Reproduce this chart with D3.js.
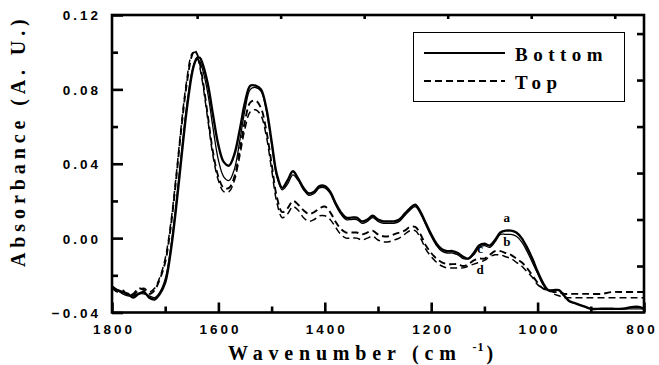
<!DOCTYPE html>
<html>
<head>
<meta charset="utf-8">
<script src="https://cdn.jsdelivr.net/npm/d3@7"></script>
<style>
  html, body { margin: 0; padding: 0; background: #fff; }
  svg { display: block; }
</style>
</head>
<body>
<svg id="chart" width="659" height="365"></svg>
<script>
// ---- data ----
const wavenumbers = [1800,1790,1780,1770,1760,1750,1740,1730,1720,1710,1700,1690,1680,1670,1660,1650,1645,1640,1635,1630,1620,1610,1600,1590,1580,1570,1560,1550,1540,1530,1520,1510,1500,1490,1480,1470,1460,1450,1440,1430,1420,1410,1400,1390,1380,1370,1360,1350,1340,1330,1320,1310,1300,1290,1280,1270,1260,1250,1240,1230,1220,1210,1200,1190,1180,1170,1160,1150,1140,1130,1120,1110,1100,1090,1080,1070,1060,1050,1040,1030,1020,1010,1000,990,980,970,960,950,940,930,920,910,900,880,860,840,820,810,800];

const bottomA = [-0.026,-0.028,-0.029,-0.030,-0.032,-0.030,-0.029,-0.032,-0.033,-0.030,-0.024,-0.008,0.015,0.042,0.068,0.088,0.094,0.097,0.097,0.094,0.083,0.066,0.050,0.041,0.039,0.045,0.058,0.073,0.082,0.082,0.080,0.070,0.052,0.034,0.027,0.031,0.036,0.032,0.027,0.024,0.025,0.028,0.028,0.025,0.019,0.014,0.011,0.011,0.011,0.009,0.010,0.012,0.010,0.009,0.009,0.009,0.010,0.013,0.016,0.018,0.014,0.008,0.002,-0.003,-0.006,-0.007,-0.007,-0.008,-0.010,-0.011,-0.008,-0.004,-0.003,-0.004,-0.001,0.003,0.004,0.004,0.003,0.000,-0.005,-0.011,-0.018,-0.024,-0.028,-0.028,-0.028,-0.031,-0.034,-0.035,-0.036,-0.037,-0.038,-0.038,-0.038,-0.038,-0.037,-0.037,-0.038];

const bottomB = [-0.027,-0.028,-0.030,-0.031,-0.031,-0.030,-0.030,-0.031,-0.032,-0.029,-0.022,-0.006,0.017,0.044,0.070,0.089,0.094,0.096,0.095,0.091,0.078,0.059,0.042,0.033,0.031,0.037,0.052,0.069,0.080,0.081,0.079,0.069,0.051,0.033,0.026,0.029,0.034,0.031,0.026,0.023,0.024,0.027,0.027,0.024,0.018,0.013,0.010,0.010,0.010,0.008,0.009,0.011,0.009,0.008,0.008,0.008,0.009,0.012,0.015,0.017,0.013,0.007,0.001,-0.004,-0.007,-0.008,-0.008,-0.009,-0.011,-0.011,-0.009,-0.005,-0.004,-0.005,-0.002,0.002,0.002,0.002,0.001,-0.002,-0.007,-0.013,-0.019,-0.025,-0.028,-0.028,-0.028,-0.031,-0.034,-0.035,-0.036,-0.037,-0.038,-0.038,-0.038,-0.038,-0.038,-0.038,-0.038];

const topC = [-0.027,-0.028,-0.028,-0.031,-0.030,-0.027,-0.028,-0.030,-0.028,-0.022,-0.013,0.005,0.030,0.058,0.082,0.098,0.101,0.099,0.094,0.086,0.066,0.046,0.033,0.027,0.027,0.033,0.047,0.063,0.073,0.074,0.070,0.058,0.040,0.022,0.014,0.016,0.020,0.018,0.015,0.013,0.014,0.016,0.017,0.014,0.009,0.005,0.003,0.003,0.003,0.002,0.003,0.004,0.002,0.001,0.001,0.002,0.003,0.004,0.006,0.006,0.002,-0.004,-0.008,-0.011,-0.013,-0.014,-0.014,-0.014,-0.015,-0.014,-0.012,-0.011,-0.011,-0.009,-0.007,-0.007,-0.008,-0.009,-0.011,-0.013,-0.016,-0.020,-0.024,-0.027,-0.028,-0.029,-0.029,-0.030,-0.030,-0.030,-0.030,-0.030,-0.030,-0.030,-0.029,-0.029,-0.029,-0.029,-0.029];

const topD = [-0.027,-0.029,-0.029,-0.030,-0.031,-0.028,-0.027,-0.029,-0.027,-0.021,-0.011,0.007,0.032,0.060,0.084,0.099,0.100,0.098,0.092,0.084,0.064,0.044,0.031,0.025,0.025,0.031,0.044,0.059,0.068,0.069,0.066,0.055,0.037,0.019,0.011,0.013,0.017,0.015,0.011,0.009,0.010,0.012,0.012,0.010,0.006,0.002,0.000,0.000,0.000,-0.001,0.000,0.001,-0.001,-0.002,-0.002,-0.001,0.000,0.002,0.004,0.004,0.000,-0.006,-0.010,-0.013,-0.015,-0.016,-0.016,-0.016,-0.016,-0.015,-0.014,-0.013,-0.012,-0.010,-0.009,-0.009,-0.010,-0.011,-0.013,-0.015,-0.018,-0.021,-0.025,-0.027,-0.028,-0.030,-0.031,-0.032,-0.032,-0.032,-0.032,-0.032,-0.032,-0.032,-0.032,-0.032,-0.032,-0.032,-0.032];

const series = [
  { name: "a", values: bottomA, dash: null, width: 2.4 },
  { name: "b", values: bottomB, dash: null, width: 1.3 },
  { name: "c", values: topC, dash: "7,4", width: 1.9 },
  { name: "d", values: topD, dash: "7,4", width: 1.5 }
];

const xTicksMajor = [1800, 1600, 1400, 1200, 1000, 800];
const xTicksMinor = [1700, 1500, 1300, 1100, 900];
const xTicksTop = [1640, 1483, 1326, 1169, 1012, 855];
const yTicksMajor = [0.12, 0.08, 0.04, 0.00, -0.04];
const yTicksMinor = [0.10, 0.06, 0.02, -0.02];
const yTicksRight = [0.110, 0.085, 0.060, 0.035, 0.010, -0.015];

const curveLabels = [
  { text: "a", w: 1058, v: 0.0085 },
  { text: "b", w: 1058, v: -0.0040 },
  { text: "c", w: 1108, v: -0.0080 },
  { text: "d", w: 1108, v: -0.0195 }
];
const legendItems = [
  { text: "Bottom", dash: null },
  { text: "Top", dash: "7,4" }
];

// ---- drawing ----
const svg = d3.select("#chart");
const L = 112, R = 644, T = 15, B = 312.5;
const x = d3.scaleLinear().domain([1800, 800]).range([L, R]);
const y = d3.scaleLinear().domain([-0.04, 0.12]).range([B, T]);

const clipId = "plotclip";
svg.append("clipPath").attr("id", clipId)
  .append("rect").attr("x", L).attr("y", T).attr("width", R - L).attr("height", B - T);

const line = d3.line()
  .x((d, i) => x(wavenumbers[i]))
  .y(d => y(d))
  .curve(d3.curveCatmullRom.alpha(0.5));

const g = svg.append("g").attr("clip-path", `url(#${clipId})`);
series.forEach(s => {
  g.append("path")
    .datum(s.values)
    .attr("d", line)
    .attr("fill", "none")
    .attr("stroke", "#000")
    .attr("stroke-width", s.width)
    .attr("stroke-dasharray", s.dash)
    .attr("stroke-linejoin", "round");
});

// axes
const axisStroke = 2.6;
const bottomAxis = svg.append("g").attr("transform", `translate(0,${B})`)
  .call(d3.axisBottom(x).tickValues(xTicksMajor).tickSize(-10).tickFormat(d3.format("d")).tickPadding(12));
const bottomMinor = svg.append("g").attr("transform", `translate(0,${B})`)
  .call(d3.axisBottom(x).tickValues(xTicksMinor).tickSize(-6).tickFormat(""));
const topAxis = svg.append("g").attr("transform", `translate(0,${T})`)
  .call(d3.axisTop(x).tickValues(xTicksTop).tickSize(-4).tickFormat(""));
const leftAxis = svg.append("g").attr("transform", `translate(${L},0)`)
  .call(d3.axisLeft(y).tickValues(yTicksMajor).tickSize(-11).tickFormat(d3.format(".2f")).tickPadding(14));
const leftMinor = svg.append("g").attr("transform", `translate(${L},0)`)
  .call(d3.axisLeft(y).tickValues(yTicksMinor).tickSize(-6).tickFormat(""));
const rightAxis = svg.append("g").attr("transform", `translate(${R},0)`)
  .call(d3.axisRight(y).tickValues(yTicksRight).tickSize(-7).tickFormat(""));

[bottomAxis, bottomMinor, topAxis, leftAxis, leftMinor, rightAxis].forEach(a => {
  a.select(".domain").remove();
  a.selectAll(".tick line").attr("stroke", "#000").attr("stroke-width", axisStroke);
});

// frame
svg.append("rect").attr("x", L).attr("y", T).attr("width", R - L).attr("height", B - T)
  .attr("fill", "none").attr("stroke", "#000").attr("stroke-width", axisStroke);

// tick label styling
bottomAxis.selectAll(".tick text")
  .attr("font-family", "'Liberation Sans', Arial, sans-serif")
  .attr("font-weight", "bold").attr("font-size", 13.5)
  .attr("letter-spacing", "3px")
  .attr("dx", d => d === 800 ? "-2.5px" : "1.5px")
  .attr("fill", "#000");
leftAxis.selectAll(".tick text")
  .attr("font-family", "'Liberation Sans', Arial, sans-serif")
  .attr("font-weight", "bold").attr("font-size", 13.5)
  .attr("letter-spacing", "3px").attr("dx", "3px").attr("dy", "0.36em").attr("fill", "#000");

// axis titles
const serif = "'Liberation Serif', 'Times New Roman', serif";
const xt = svg.append("text").attr("x", 228).attr("y", 360)
  .attr("font-family", serif).attr("font-weight", "bold").attr("font-size", 20)
  .attr("letter-spacing", "5.8px").attr("fill", "#000");
xt.append("tspan").text("Wavenumber (cm ");
xt.append("tspan").attr("dy", -9).attr("font-size", 12).attr("letter-spacing", "1px").text("-1");
xt.append("tspan").attr("dy", 9).attr("dx", 2).text(")");

svg.append("text")
  .attr("transform", "translate(25,267) rotate(-90)")
  .attr("font-family", serif).attr("font-weight", "bold").attr("font-size", 20)
  .attr("letter-spacing", "4.9px").attr("fill", "#000")
  .text("Absorbance (A. U.)");

// curve labels
svg.selectAll("text.curvelabel").data(curveLabels).enter().append("text")
  .attr("class", "curvelabel")
  .attr("x", d => x(d.w)).attr("y", d => y(d.v))
  .attr("text-anchor", "middle")
  .attr("font-family", serif).attr("font-weight", "bold").attr("font-size", 13)
  .attr("fill", "#000")
  .text(d => d.text);

// legend
const lg = svg.append("g");
lg.append("rect").attr("x", 413.5).attr("y", 32.5).attr("width", 211).attr("height", 69)
  .attr("fill", "#fff").attr("stroke", "#000").attr("stroke-width", 1);
legendItems.forEach((it, i) => {
  const cy = 53 + i * 28;
  lg.append("line").attr("x1", 424).attr("x2", 505).attr("y1", cy).attr("y2", cy)
    .attr("stroke", "#000").attr("stroke-width", 1.8).attr("stroke-dasharray", it.dash);
  lg.append("text").attr("x", 515).attr("y", cy + 8)
    .attr("font-family", serif).attr("font-weight", "bold").attr("font-size", 19)
    .attr("letter-spacing", "5.5px").attr("fill", "#000")
    .text(it.text);
});
</script>
</body>
</html>
